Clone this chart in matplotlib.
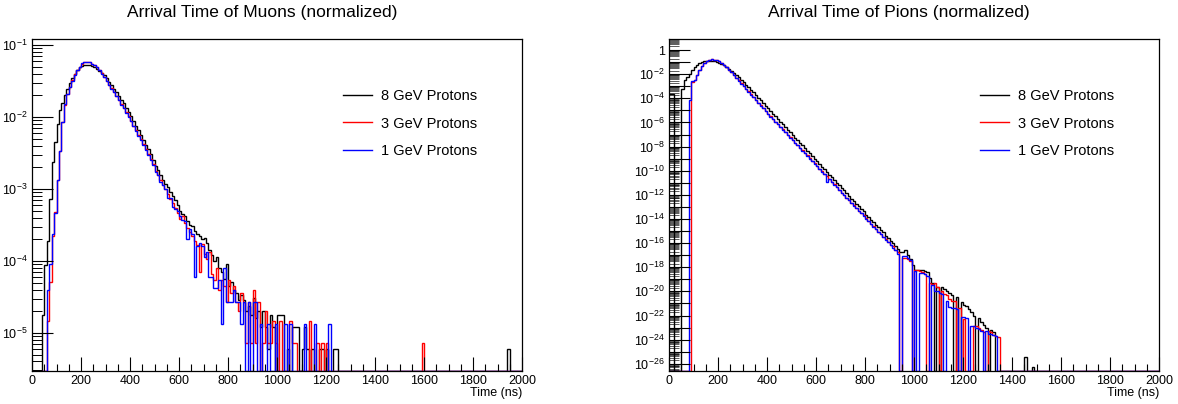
"""
Arrival time of muons and pions (normalized), for 8, 3 and 1 GeV protons.
ROOT-style log-scale step histograms, 10 ns bins from 0 to 2000 ns.
"""

import numpy as np
import matplotlib
matplotlib.use("Agg")
import matplotlib.pyplot as plt
from matplotlib.lines import Line2D
from matplotlib.ticker import MultipleLocator, LogLocator, FuncFormatter, NullFormatter

plt.rcParams.update({"font.family": ["Liberation Sans", "DejaVu Sans"],
                     "mathtext.default": "regular", "font.size": 9})

BIN = 10                 # ns per bin
TMAX = 2000
LABELS = ["8 GeV Protons", "3 GeV Protons", "1 GeV Protons"]
COLORS = ["#000000", "#ff0000", "#0000ff"]

# log10(normalized content) per 10 ns bin, first bin at *_T0; None = empty bin
# ---- muons ----
MU8_T0 = 40
MU8 = [-4.75, -4.06, -3.72, -3.14, -2.62, -2.35,
       -2.10, -1.91, -1.80, -1.70, -1.61, -1.53, -1.46, -1.40, -1.35, -1.31,
       -1.29, -1.28, -1.275, -1.28, -1.29, -1.31, -1.33, -1.36, -1.39, -1.42,
       -1.46, -1.51, -1.56, -1.61, -1.66, -1.71, -1.76, -1.81, -1.87, -1.93,
       -1.98, -2.05, -2.12, -2.18, -2.25, -2.32, -2.39, -2.45, -2.52, -2.60,
       -2.68, -2.74, -2.80, -2.87, -2.93, -2.98, -3.04, -3.10, -3.15, -3.22,
       -3.30, -3.35, -3.38, -3.45, -3.50, -3.52, -3.58, -3.62, -3.66, -3.70,
       -3.68, -3.75, -3.85, -3.92, -4.00, -3.95, -4.10, -4.15, -4.25, -4.05,
       -4.35, -4.30, -4.40, -4.45, -4.55, -4.48, -4.55, -4.70, -4.62, -4.75,
       -4.52, -4.80, -4.70, -4.92, -4.70, -4.92, -5.23, -4.75, -4.92, None,
       -4.75, -4.75, -4.75, None, -5.23, None, -4.92, -4.92, -4.92, None,
       -5.23, -4.92, -5.23, None, -5.23, None, None, -5.23, -5.23, None,
       -5.23, None, None, -5.23, -5.23]
MU8_EXTRA = [(1940, -5.23)]

MU3_T0 = 60
MU3 = [-4.84, -4.30, -3.65, -3.32,
       -2.88, -2.47, -2.07, -1.83, -1.68, -1.58, -1.49, -1.41, -1.35, -1.30,
       -1.26, -1.24, -1.235, -1.24, -1.26, -1.28, -1.31, -1.35, -1.39, -1.44,
       -1.50, -1.55, -1.60, -1.65, -1.71, -1.76, -1.82, -1.87, -1.93, -1.99,
       -2.05, -2.12, -2.18, -2.25, -2.31, -2.38, -2.45, -2.52, -2.58, -2.66,
       -2.75, -2.80, -2.88, -2.94, -3.00, -3.07, -3.14, -3.20, -3.27, -3.33,
       -3.42, -3.38, -3.48, -3.55, -3.60, -3.65, -3.72, -3.78, -4.15, -3.76,
       -3.90, -3.97, -3.88, -4.18, -4.27, -4.10, -4.40, -4.27, -4.35, -4.57,
       -4.27, -4.44, -4.35, -4.57, -4.70, -4.44, -4.57, -5.14, -4.57, -5.14,
       -4.40, -5.14, -4.57, None, -5.14, -4.70, -5.14, -5.14, -4.84, -5.14,
       None, -4.84, None, None, None, -4.84, -5.14, -5.14, None, None,
       None, None, None, -4.84, None, None, -5.14, None, -5.14, None,
       -5.14]
MU3_EXTRA = [(1590, -5.14)]

MU1_T0 = 60
MU1 = [-4.40, -4.05, -3.62, -3.33,
       -2.88, -2.47, -2.07, -1.82, -1.68, -1.59, -1.50, -1.42, -1.35, -1.30,
       -1.25, -1.23, -1.23, -1.24, -1.26, -1.28, -1.31, -1.35, -1.40, -1.45,
       -1.50, -1.56, -1.61, -1.66, -1.71, -1.77, -1.83, -1.88, -1.94, -2.00,
       -2.06, -2.12, -2.19, -2.26, -2.32, -2.39, -2.46, -2.53, -2.60, -2.67,
       -2.76, -2.81, -2.90, -2.95, -3.00, -3.12, -3.13, -3.25, -3.28, -3.30,
       -3.38, -3.43, -3.45, -3.69, -3.56, -3.62, -4.23, -3.80, -3.75, -3.80,
       -3.95, -3.87, -4.23, -4.23, -4.38, -4.38, -4.27, -4.875, -4.10, -4.57,
       -4.57, -4.57, -4.40, -4.57, -4.57, -4.875, -4.57, None, -4.57, None,
       -4.57, -4.57, None, -4.875, None, None, -4.875, None, None, -4.875,
       None, None, None, -4.875, None, -4.875, None, None, None, None,
       None, -4.875, None, None, None, -4.875, None, None, None, None,
       None, -4.875]
MU1_EXTRA = []

# ---- pions ----
PI8_T0 = 0
PI8 = [-3.60, -3.60, None, None, None, -3.20, -2.50, -2.25, -1.95, -1.65,
       -1.40, -1.22, -1.08, -0.99, -0.93, -0.90, -0.88, -0.88, -0.90, -0.95,
       -1.03, -1.13, -1.25, -1.39, -1.55, -1.72, -1.90, -2.08, -2.27, -2.46,
       -2.66, -2.87, -3.08, -3.30, -3.51, -3.73, -3.95, -4.17, -4.39, -4.61,
       -4.83, -5.05, -5.27, -5.48, -5.71, -5.93, -6.14, -6.37, -6.59, -6.80,
       -7.03, -7.25, -7.46, -7.69, -7.90, -8.13, -8.35, -8.56, -8.79, -9.00,
       -9.23, -9.44, -9.67, -9.88, -10.10, -10.33, -10.53, -10.77, -10.98, -11.18,
       -11.43, -11.62, -11.87, -12.06, -12.31, -12.50, -12.75, -12.94, -13.19, -13.36,
       -13.63, -13.80, -14.07, -14.25, -14.51, -14.66, -14.95, -15.10, -15.39, -15.55,
       -15.83, -16.00, -16.27, -16.45, -16.71, -16.70, -16.55, -16.95, -17.30, -17.80,
       -18.20, -18.20, -18.20, -18.25, -18.30, -18.40, -18.90, -19.30, None, -19.60,
       None, -19.65, -19.80, -19.95, -20.10, -20.30, None, -20.50, None, -20.85,
       -21.10, -21.25, -21.45, -21.70, -22.00, None, -22.20, -22.50, -22.80, -23.00,
       None, -23.20, -23.40]
PI8_EXTRA = [(1450, -25.4), (1480, -26.3)]

PI3_T0 = 90
PI3 = [-2.65,
       -2.45, -2.05, -1.62, -1.30, -1.05, -0.88, -0.80, -0.77, -0.78, -0.83,
       -0.93, -1.07, -1.23, -1.41, -1.61, -1.83, -2.05, -2.28, -2.51, -2.74,
       -2.97, -3.20, -3.43, -3.66, -3.89, -4.12, -4.35, -4.58, -4.81, -5.04,
       -5.27, -5.49, -5.70, -5.92, -6.14, -6.35, -6.57, -6.79, -7.00, -7.22,
       -7.44, -7.66, -7.87, -8.09, -8.31, -8.52, -8.70, -8.96, -9.18, -9.39,
       -9.61, -9.83, -10.04, -10.26, -10.40, -10.70, -10.91, -11.13, -11.35, -11.56,
       -11.85, -12.00, -12.22, -12.43, -12.65, -12.87, -13.08, -13.30, -13.52, -13.65,
       -13.95, -14.17, -14.39, -14.60, -14.82, -15.10, -15.26, -15.47, -15.69, -15.91,
       -16.12, -16.25, -16.56, -16.77, None, -17.20, -17.20, -17.30, -17.50, None,
       -18.20, -18.20, -18.30, -18.40, -18.60, None, -19.30, -19.40, -19.30, -19.60,
       None, -20.00, -20.20, -20.30, -20.60, -20.80, -20.80, None, -21.40, None,
       -22.30, None, None, None, -22.90, -22.90, -23.00, -23.20, -23.40, None,
       -23.30, -23.40, -23.60, -23.70, -23.80]
PI3_EXTRA = []

PI1_T0 = 80
PI1 = [-4.13, -2.60,
       -2.45, -2.05, -1.62, -1.30, -1.05, -0.88, -0.80, -0.77, -0.78, -0.83,
       -0.92, -1.06, -1.22, -1.40, -1.62, -1.85, -2.08, -2.31, -2.54, -2.77,
       -3.00, -3.23, -3.46, -3.69, -3.92, -4.15, -4.38, -4.61, -4.84, -5.07,
       -5.30, -5.51, -5.73, -5.95, -6.16, -6.38, -6.60, -6.82, -7.03, -7.25,
       -7.47, -7.68, -7.90, -8.12, -8.34, -8.55, -8.77, -8.99, -9.20, -9.42,
       -9.64, -9.85, -10.07, -10.29, -10.90, -10.72, -10.94, -11.16, -11.37, -11.59,
       -11.81, -12.03, -12.24, -12.46, -12.68, -12.89, -13.11, -13.33, -13.54, -13.76,
       -13.98, -14.20, -14.41, -14.63, -14.85, -15.06, -15.28, -15.50, -15.71, -15.93,
       -16.15, -16.37, -16.58, -16.90, None, -17.10, -17.10, -17.20, -17.40, None,
       -18.30, None, -18.50, -18.50, -18.60, -18.70, None, -19.50, -20.00, -20.00,
       -20.10, -20.20, None, -20.80, -21.30, -21.40, -21.40, -21.50, None, -22.10,
       -22.10, -22.20, None, -22.90, -22.90, -23.00, -23.10, -23.30, None, -23.30,
       -23.50, -23.50, -23.60, -23.70]
PI1_EXTRA = []

MU_YLIM = (10 ** -5.53, 10 ** -0.917)
PI_YLIM = (10 ** -26.6, 10 ** 0.92)


def to_hist(t0, logs, extra, floor):
    vals = np.full(TMAX // BIN, floor)
    for i, v in enumerate(logs):
        if v is not None:
            vals[t0 // BIN + i] = 10.0 ** v
    for t, v in extra:
        vals[t // BIN] = 10.0 ** v
    return vals


def style_axes(ax, ylim, every_other):
    ax.set_xlim(0, TMAX)
    ax.set_yscale("log")
    ax.set_ylim(*ylim)
    ax.xaxis.set_major_locator(MultipleLocator(200))
    ax.xaxis.set_minor_locator(MultipleLocator(50))
    ax.yaxis.set_major_locator(LogLocator(base=10, numticks=40))
    ax.yaxis.set_minor_locator(LogLocator(base=10, subs=np.arange(2, 10), numticks=40))
    ax.yaxis.set_minor_formatter(NullFormatter())

    def fmt(v, pos):
        e = int(round(np.log10(v)))
        if every_other and e % 2:
            return ""
        return "1" if e == 0 else f"$10^{{{e}}}$"

    ax.yaxis.set_major_formatter(FuncFormatter(fmt))
    ax.tick_params(which="both", direction="in", top=False, right=False,
                   width=0.8, labelsize=9)
    ax.tick_params(axis="x", which="major", length=10, pad=3)
    ax.tick_params(axis="x", which="minor", length=5)
    ax.tick_params(axis="y", which="major", length=15, pad=3)
    ax.tick_params(axis="y", which="minor", length=7,
                   width=0.45 if every_other else 0.7)
    for s in ax.spines.values():
        s.set_linewidth(0.9)
    ax.text(1.0, -0.066, "Time (ns)", transform=ax.transAxes,
            ha="right", va="center", fontsize=9)
    handles = [Line2D([], [], color=c, lw=1.0) for c in COLORS]
    ax.legend(handles, LABELS, loc="upper left", bbox_to_anchor=(0.635, 0.849),
              frameon=False, fontsize=10.5, handlelength=2.0, handletextpad=0.6,
              labelspacing=0.92, borderpad=0, borderaxespad=0)


edges = np.arange(0, TMAX + BIN, BIN)
fig = plt.figure(figsize=(11.78, 4.04), dpi=100)

panels = [
    ("Arrival Time of Muons (normalized)", 32, MU_YLIM, False,
     [(MU8_T0, MU8, MU8_EXTRA), (MU3_T0, MU3, MU3_EXTRA), (MU1_T0, MU1, MU1_EXTRA)], 262.5),
    ("Arrival Time of Pions (normalized)", 669, PI_YLIM, True,
     [(PI8_T0, PI8, PI8_EXTRA), (PI3_T0, PI3, PI3_EXTRA), (PI1_T0, PI1, PI1_EXTRA)], 899),
]

for title, left, ylim, every_other, series, tx in panels:
    ax = fig.add_axes([left / 1178, 33 / 404, 490 / 1178, 332 / 404])
    for (t0, logs, extra), c in zip(series, COLORS):
        h = to_hist(t0, logs, extra, ylim[0])
        ax.stairs(h, edges, color=c, lw=1.0, baseline=None)
    style_axes(ax, ylim, every_other)
    fig.text(tx / 1178, 1 - 13 / 404, title, ha="center", va="center", fontsize=12.5)

fig.savefig("out.png", dpi=100)
